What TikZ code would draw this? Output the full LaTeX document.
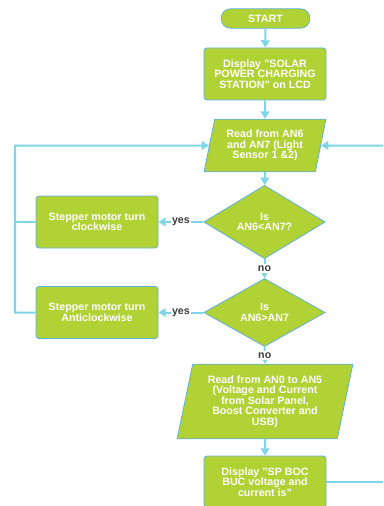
\documentclass[tikz,border=0pt]{standalone}
\usepackage{fontspec}
\setmainfont{Liberation Sans}
\usetikzlibrary{shapes.geometric,arrows.meta}
\definecolor{boxgreen}{RGB}{176,210,52}
\definecolor{boxedge}{RGB}{96,176,222}
\definecolor{flow}{RGB}{128,214,232}
\definecolor{lbl}{RGB}{60,60,60}
\tikzset{
  base/.style={fill=boxgreen, draw=boxedge, line width=0.6pt, text=white,
    font=\fontsize{8}{7.9}\selectfont\bfseries, align=center, inner sep=1pt},
  procbox/.style={base, rectangle, rounded corners=2.2pt, minimum width=91.5pt, minimum height=39pt},
  termbox/.style={base, rectangle, rounded corners=7pt, minimum width=66.5pt, minimum height=14.5pt},
  iobox/.style={base, trapezium, trapezium stretches=true, trapezium left angle=76, trapezium right angle=104},
  decbox/.style={base, diamond, minimum width=91pt, minimum height=51pt, inner sep=0pt},
  flowline/.style={draw=flow, line width=1.5pt},
  arr/.style={flowline, -{Triangle[width=6.5pt,length=5.5pt]}},
  lab/.style={fill=white, text=lbl, font=\fontsize{8}{8}\selectfont\bfseries, inner sep=1pt}
}
\begin{document}
\begin{tikzpicture}[x=0.75pt,y=-0.75pt]
\useasboundingbox (0,0) rectangle (383,506);
\clip (0,0) rectangle (383,506);
\node[termbox] (start) at (265.5,18.5) {START};
\node[procbox] (disp1) at (265,74) {Display "SOLAR\\POWER CHARGING\\STATION" on LCD};
\node[iobox, minimum width=91.5pt, minimum height=39.5pt] (read1) at (265,145.5) {Read from AN6\\and AN7 (Light\\Sensor 1 \&2)};
\node[decbox] (dia1) at (264.5,222) {Is\\AN6<AN7?};
\node[procbox] (cw) at (97,222) {Stepper motor turn\\clockwise};
\node[decbox] (dia2) at (264.5,312.5) {Is\\AN6>AN7};
\node[procbox] (acw) at (97,312.5) {Stepper motor turn\\Anticlockwise};
\node[iobox, trapezium left angle=77, trapezium right angle=103, minimum width=132pt, minimum height=56pt] (read2) at (265,401.5) {Read from AN0 to AN5\\(Voltage and Current\\from Solar Panel,\\Boost Converter and\\USB)};
\node[procbox] (disp2) at (265,482) {Display "SP BOC\\BUC voltage and\\current is"};
\coordinate (lefttop) at (15,145.5);
\coordinate (leftcw) at (15,222);
\coordinate (leftacw) at (15,312.5);
\coordinate (rightbot) at (390,482);
\coordinate (righttop) at (390,145.5);
\draw[arr] (start) -- (disp1);
\draw[arr] (disp1) -- (read1);
\draw[arr] (read1) -- (dia1);
\draw[arr] (dia1.west) -- node[lab] {yes} (cw.east);
\draw[arr] (dia1.south) -- node[lab] {no} (dia2.north);
\draw[arr] (dia2.west) -- node[lab] {yes} (acw.east);
\draw[arr] (dia2.south) -- node[lab] {no} (read2.north);
\draw[arr] (read2) -- (disp2);
\draw[flowline] (cw.west) -- (leftcw);
\draw[arr] (acw.west) -- (leftacw) -- (lefttop) -- (read1.west);
\draw[flowline] (disp2.east) -- (rightbot);
\draw[arr] (righttop) -- (read1.east);
\end{tikzpicture}
\end{document}
